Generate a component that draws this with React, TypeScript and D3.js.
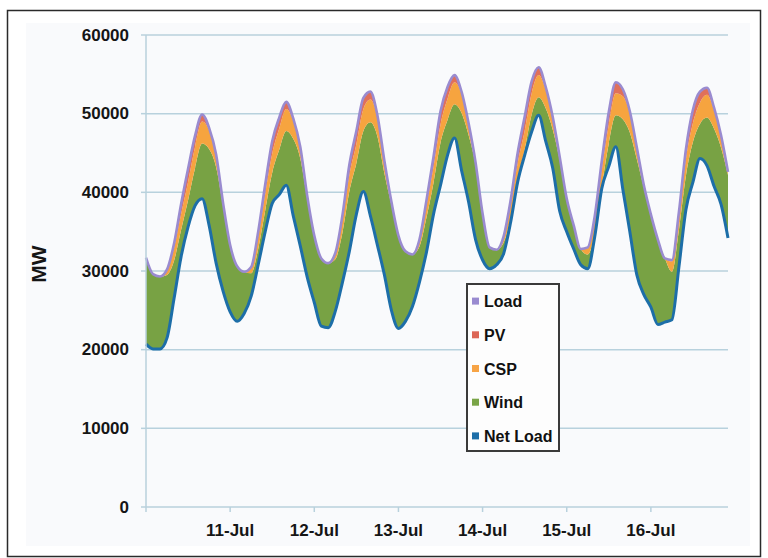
import React from "react";
import * as d3 from "d3";

// Hourly samples every 2 hours starting 10-Jul 00:00 (MW)
const LOAD = [
  31700, 29600, 29300, 30200, 33500, 38500, 43000, 47200, 49900, 48200, 44800, 38600,
  33300, 30600, 29900, 30500, 35000, 41000, 46500, 49500, 51500, 49400, 45800, 39500,
  34500, 31600, 31000, 32300, 37000, 43500, 47800, 52000, 52800, 49800, 44000, 38800,
  34500, 32500, 32100, 34000, 39000, 44500, 50300, 53400, 54900, 52800, 48800, 43800,
  37300, 33000, 32700, 34400, 39000, 45000, 49600, 54100, 55900, 53400, 49600, 44500,
  39200, 35800, 32800, 33000, 37000, 44000, 50200, 54000, 53100, 50300, 45700, 40900,
  37200, 34000, 31600, 31400, 37500, 45500, 50500, 52800, 53300, 50800, 47300, 42600,
];

const PV = [
  0, 0, 0, 100, 600, 1300, 1700, 1400, 900, 300, 0, 0,
  0, 0, 0, 100, 600, 1200, 1600, 1400, 900, 300, 0, 0,
  0, 0, 0, 100, 500, 1300, 1700, 1400, 1000, 300, 0, 0,
  0, 0, 0, 100, 600, 1300, 1700, 1500, 900, 300, 0, 0,
  0, 0, 0, 100, 600, 1300, 1800, 1500, 1000, 400, 0, 0,
  0, 0, 0, 100, 500, 1200, 1600, 1400, 900, 300, 0, 0,
  0, 0, 0, 200, 600, 1300, 1700, 1400, 900, 300, 0, 0,
];

const CSP = [
  0, 0, 0, 600, 1600, 2000, 2300, 2700, 2800, 2400, 1600, 400,
  0, 0, 0, 700, 1600, 2100, 2400, 2700, 2800, 2300, 1500, 300,
  0, 0, 0, 700, 1700, 2100, 2400, 2800, 2900, 2400, 1600, 400,
  0, 0, 0, 800, 1600, 2000, 2300, 2700, 2800, 2400, 1500, 300,
  0, 0, 0, 700, 1600, 2000, 2400, 2700, 2800, 2300, 1600, 400,
  0, 0, 0, 800, 1700, 2100, 2400, 2800, 2900, 2400, 1500, 300,
  0, 0, 0, 1300, 1700, 2100, 2400, 2700, 2900, 2400, 1600, 400,
];

const NET_LOAD = [
  20700, 20100, 20100, 21500, 26500, 31800, 35600, 38300, 39200, 35800, 31000, 27400,
  24800, 23600, 24600, 26800, 30800, 35000, 38600, 39700, 40900, 37000, 33200, 29200,
  26000, 23000, 22800, 24900, 28500, 32500, 37200, 40100, 37000, 33300, 29500, 25000,
  22700, 23600, 25500, 28600, 32400, 37200, 40900, 44700, 46900, 42800, 38800, 34000,
  31400, 30300, 30800, 32200, 36200, 41300, 44700, 47700, 49800, 46500, 43100, 37600,
  35000, 32800, 30800, 30300, 34400, 40500, 43300, 45800, 40400, 35000, 29500, 27000,
  25400, 23200, 23500, 23800, 30500, 37800, 41300, 44300, 43400, 40800, 38500, 34200,
];

const DAY_TICKS = [24, 48, 72, 96, 120, 144];
const DAY_LABELS = ["11-Jul", "12-Jul", "13-Jul", "14-Jul", "15-Jul", "16-Jul"];
const Y_TICKS = [0, 10000, 20000, 30000, 40000, 50000, 60000];
const LEGEND_NAMES = ["Load", "PV", "CSP", "Wind", "Net Load"];
const LEGEND_COLORS = ["#9a8bd0", "#dc6656", "#f7a446", "#7aa547", "#1d6ea8"];

const FONT = "'Liberation Sans', Arial, Helvetica, sans-serif";

export default function App() {
  const x = d3.scaleLinear().domain([0, 166]).range([146, 728]);
  const y = d3.scaleLinear().domain([0, 60000]).range([507, 35]);

  const rows = LOAD.map((l, i) => ({
    h: i * 2,
    load: l,
    pvBot: l - PV[i],
    cspBot: l - PV[i] - CSP[i],
    net: NET_LOAD[i],
  }));

  const curve = d3.curveMonotoneX;
  const pvArea = d3.area<any>().x((d) => x(d.h)).y0((d) => y(d.pvBot)).y1((d) => y(d.load)).curve(curve);
  const cspArea = d3.area<any>().x((d) => x(d.h)).y0((d) => y(d.cspBot)).y1((d) => y(d.pvBot)).curve(curve);
  const windArea = d3.area<any>().x((d) => x(d.h)).y0((d) => y(d.net)).y1((d) => y(d.cspBot)).curve(curve);
  const loadLine = d3.line<any>().x((d) => x(d.h)).y((d) => y(d.load)).curve(curve);
  const netLine = d3.line<any>().x((d) => x(d.h)).y((d) => y(d.net)).curve(curve);

  const [x0, x1] = x.range();
  const gridColor = "#b8d1dd";

  return (
    <svg
      width={768}
      height={558}
      style={{ position: "absolute", left: 0, top: 0, background: "#ffffff" }}
      fontFamily={FONT}
    >
      <rect x={7.5} y={10.5} width={753} height={546} fill="#ffffff" stroke="#2a2a2a" strokeWidth={1.5} />
      <rect x={26} y={23} width={724} height={523} fill="#f9fafc" />

      {/* grid */}
      {Y_TICKS.filter((t) => t > 0).map((t) => (
        <line key={t} x1={x0} x2={x1} y1={y(t)} y2={y(t)} stroke={gridColor} strokeWidth={1.5} />
      ))}

      {/* areas */}
      <path d={windArea(rows) || ""} fill="#78a244" />
      <path d={cspArea(rows) || ""} fill="#f6a43f" />
      <path d={pvArea(rows) || ""} fill="#e0705a" />
      <path d={loadLine(rows) || ""} fill="none" stroke="#9a8bd0" strokeWidth={2.6} strokeLinejoin="round" />
      <path d={netLine(rows) || ""} fill="none" stroke="#1d6ea8" strokeWidth={3} strokeLinejoin="round" />

      {/* axes */}
      <line x1={x0} x2={x0} y1={y(60000)} y2={y(0) + 5} stroke={gridColor} strokeWidth={1.5} />
      <line x1={x0} x2={x1} y1={y(0)} y2={y(0)} stroke={gridColor} strokeWidth={1.5} />
      {Y_TICKS.map((t) => (
        <g key={t}>
          <line x1={x0 - 5} x2={x0} y1={y(t)} y2={y(t)} stroke={gridColor} strokeWidth={1.5} />
          <text
            x={129}
            y={y(t)}
            textAnchor="end"
            dominantBaseline="central"
            fontSize={17}
            fontWeight="bold"
            fill="#151515"
          >
            {t}
          </text>
        </g>
      ))}
      {DAY_TICKS.map((t, i) => (
        <g key={t}>
          <line x1={x(t)} x2={x(t)} y1={y(0)} y2={y(0) + 5} stroke={gridColor} strokeWidth={1.5} />
          <text x={x(t)} y={536} textAnchor="middle" fontSize={17} fontWeight="bold" fill="#151515">
            {DAY_LABELS[i]}
          </text>
        </g>
      ))}
      <text
        transform={`translate(46,264) rotate(-90)`}
        textAnchor="middle"
        fontSize={21}
        fontWeight="bold"
        fill="#151515"
      >
        MW
      </text>

      {/* legend */}
      <rect x={467} y={284} width={92} height={167} fill="#fdfdfd" stroke="#3a3a3a" strokeWidth={2} />
      {LEGEND_NAMES.map((n, i) => {
        const cy = 301.6 + i * 33.7;
        return (
          <g key={n}>
            <rect x={472} y={cy - 4} width={7} height={7} fill={LEGEND_COLORS[i]} />
            <text x={484} y={cy} dominantBaseline="central" fontSize={16} fontWeight="bold" fill="#111">
              {n}
            </text>
          </g>
        );
      })}
    </svg>
  );
}
